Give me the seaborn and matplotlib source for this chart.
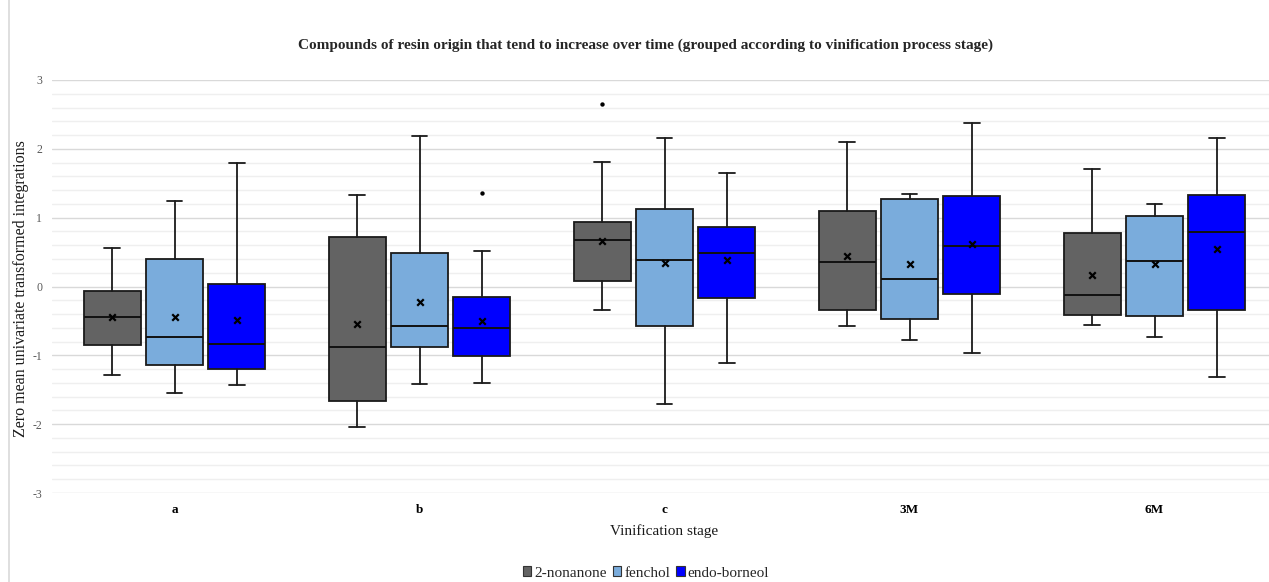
import numpy as np
import pandas as pd
import matplotlib
matplotlib.use("Agg")
import matplotlib.pyplot as plt
from matplotlib.patches import Patch
from matplotlib.lines import Line2D
from matplotlib.ticker import MultipleLocator
import seaborn as sns

# Vinification stages and compounds
stages = ["a", "b", "c", "3M", "6M"]
compounds = ["2-nonanone", "fenchol", "endo-borneol"]
colors = ["#636363", "#7aacdc", "#0000ff"]

# Box statistics, one row per compound, one column per stage
whisker_low = [
    [-1.28, -2.04, -0.34, -0.58, -0.56],
    [-1.54, -1.41, -1.71, -0.78, -0.73],
    [-1.43, -1.40, -1.11, -0.96, -1.31],
]
quartile1 = [
    [-0.855, -1.66, 0.075, -0.346, -0.42],
    [-1.145, -0.875, -0.574, -0.47, -0.43],
    [-1.20, -1.01, -0.167, -0.104, -0.34],
]
median = [
    [-0.45, -0.875, 0.676, 0.356, -0.12],
    [-0.73, -0.574, 0.385, 0.114, 0.366],
    [-0.84, -0.60, 0.487, 0.59, 0.79],
]
quartile3 = [
    [-0.065, 0.72, 0.94, 1.10, 0.78],
    [0.40, 0.487, 1.126, 1.27, 1.02],
    [0.036, -0.157, 0.86, 1.315, 1.335],
]
whisker_high = [
    [0.56, 1.33, 1.805, 2.10, 1.70],
    [1.24, 2.19, 2.16, 1.35, 1.195],
    [1.80, 0.52, 1.65, 2.37, 2.16],
]
mean = [
    [-0.44, -0.54, 0.66, 0.45, 0.16],
    [-0.44, -0.23, 0.34, 0.32, 0.32],
    [-0.48, -0.50, 0.385, 0.62, 0.54],
]
# Outliers: (stage, compound, value)
outlier_stage = ["c", "b"]
outlier_compound = ["2-nonanone", "endo-borneol"]
outlier_value = [2.65, 1.355]

sns.set_theme(style="white")
plt.rcParams["font.family"] = ["Liberation Serif", "DejaVu Serif"]
plt.rcParams["axes.unicode_minus"] = False

W, H = 1269, 582
fig = plt.figure(figsize=(W / 100, H / 100), dpi=100)
fig.patch.set_facecolor("white")
ax = fig.add_axes([52 / W, 89 / H, 1225 / W, 413 / H])

offsets = np.array([-1.0, 0.0, 1.0]) * 0.254
box_width = 0.233
edge = "#1a1a1a"

for ci, comp in enumerate(compounds):
    stats = []
    for si in range(len(stages)):
        stats.append(dict(
            label=stages[si],
            whislo=whisker_low[ci][si], q1=quartile1[ci][si], med=median[ci][si],
            q3=quartile3[ci][si], whishi=whisker_high[ci][si], mean=mean[ci][si],
            fliers=[],
        ))
    ax.bxp(
        stats,
        positions=np.arange(len(stages)) + offsets[ci],
        widths=box_width,
        capwidths=0.065,
        patch_artist=True,
        showmeans=False,
        showfliers=False,
        manage_ticks=False,
        boxprops=dict(facecolor=colors[ci], edgecolor=edge, linewidth=1.3),
        medianprops=dict(color="#111111", linewidth=1.4),
        whiskerprops=dict(color=edge, linewidth=1.3),
        capprops=dict(color=edge, linewidth=1.3),
        zorder=3,
    )

# Mean markers
mean_df = pd.DataFrame([
    dict(stage=st, compound=comp, value=mean[ci][si],
         pos=si + offsets[ci])
    for ci, comp in enumerate(compounds) for si, st in enumerate(stages)
])
sns.scatterplot(data=mean_df, x="pos", y="value", marker="x", color="black",
                s=22, linewidth=1.6, ax=ax, legend=False, zorder=5)

# Outlier dots
out_df = pd.DataFrame(dict(stage=outlier_stage, compound=outlier_compound,
                           value=outlier_value))
out_df["pos"] = [stages.index(s) + offsets[compounds.index(c)]
                 for s, c in zip(out_df["stage"], out_df["compound"])]
sns.scatterplot(data=out_df, x="pos", y="value", marker="o", color="black",
                s=10, linewidth=0, ax=ax, legend=False, zorder=5)

ax.set_xlim(-0.5, len(stages) - 0.5)
ax.set_ylim(-3, 3)
ax.set_xticks(range(len(stages)))
ax.set_xticklabels(stages, fontweight="bold", fontsize=9.5, color="black")
ax.set_yticks(range(-3, 4))
ax.yaxis.set_minor_locator(MultipleLocator(0.2))
ax.tick_params(axis="both", which="both", length=0)
ax.tick_params(axis="x", pad=8)
ax.tick_params(axis="y", pad=7, labelsize=8.5, labelcolor="#595959")
ax.grid(True, which="major", axis="y", color="#d9d9d9", linewidth=1.0)
ax.grid(True, which="minor", axis="y", color="#efefef", linewidth=1.0)
ax.grid(False, axis="x")
ax.set_axisbelow(True)
for s in ax.spines.values():
    s.set_visible(False)

ax.set_xlabel("Vinification stage", fontsize=11, color="#1a1a1a", labelpad=6)
ax.set_ylabel("Zero mean univariate transformed integrations", fontsize=11.5,
              color="#1a1a1a")
ax.yaxis.set_label_coords((29 - 52) / 1225, 0.494)

fig.text(645 / W, 1 - 45 / H,
         "Compounds of resin origin that tend to increase over time "
         "(grouped according to vinification process stage)",
         ha="center", va="center", fontsize=11, fontweight="bold")

handles = [Patch(facecolor=c, edgecolor="#333333", linewidth=0.8) for c in colors]
fig.legend(handles, compounds, loc="center", bbox_to_anchor=(646 / W, 1 - 573 / H),
           ncol=3, frameon=False, fontsize=11, handlelength=0.55, handleheight=0.55,
           handletextpad=0.2, columnspacing=0.4, borderpad=0)

fig.add_artist(Line2D([9 / W, 9 / W], [0, 1], color="#d9d9d9", linewidth=1.2,
                      transform=fig.transFigure))

fig.savefig("out.png", dpi=100, facecolor="white")
